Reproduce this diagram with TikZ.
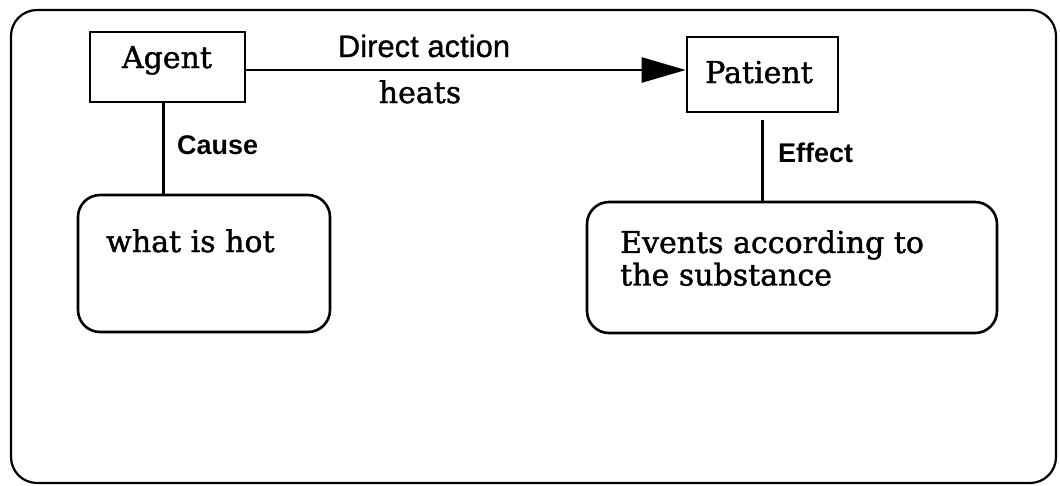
\documentclass[tikz,border=0pt]{standalone}
\usepackage{fontspec}
\setmainfont{DejaVu Serif}[FakeBold=1.3]
\newfontfamily\heavyserif{DejaVu Serif}[FakeBold=1.3]
\newfontfamily\labsans{Liberation Sans}[FakeBold=0.8]
\newfontfamily\labsansbold{Liberation Sans Bold}
\usetikzlibrary{arrows.meta}
\begin{document}
\begin{tikzpicture}[x=1pt,y=-1pt,
  frame/.style={draw,line width=2.2pt,rounded corners=26pt},
  sqbox/.style={draw,line width=2.6pt,inner sep=0pt},
  rbox/.style={draw,line width=2.6pt,rounded corners=22pt,inner sep=0pt},
  serif/.style={font=\heavyserif\fontsize{30}{32.5}\selectfont,inner sep=0pt},
  sanslab/.style={font=\labsans\fontsize{31}{34}\selectfont,inner sep=0pt},
  boldlab/.style={font=\labsansbold\fontsize{27}{30}\selectfont,inner sep=0pt},
  conn/.style={line width=2.4pt},
  arr/.style={line width=2.4pt,-{Triangle[length=44pt,width=25pt]}}
]
\useasboundingbox (0,0) rectangle (1060,485);
\draw[frame] (11,10) rectangle (1056,483);
% boxes
\node[sqbox,minimum width=155pt,minimum height=70pt] (agent) at (167.5,67) {};
\node[sqbox,minimum width=151pt,minimum height=75pt] (patient) at (762.5,74.5) {};
\node[rbox,minimum width=252pt,minimum height=137pt] (hot) at (204,263.5) {};
\node[rbox,minimum width=410pt,minimum height=131pt] (ev) at (792,267.5) {};
% texts
\node[serif,anchor=base] (tagent) at (167,68) {Agent};
\node[serif,anchor=base] (tpatient) at (759,83) {Patient};
\node[sanslab,anchor=base] (tdirect) at (424,57) {Direct action};
\node[serif,anchor=base] (theats) at (420,103) {heats};
\node[boldlab,anchor=base west] (tcause) at (177,154) {Cause};
\node[boldlab,anchor=base west] (teffect) at (778,162) {Effect};
\node[serif,anchor=base west] (thot) at (106,252) {what is hot};
\node[serif,anchor=north west,align=left] (tev) at (620,230) {Events according to\\the substance};
% connectors
\coordinate (pin) at ([yshift=-3pt]agent.east);
\draw[arr] (pin) -- (pin -| patient.west);
\draw[conn] ([xshift=-4pt]agent.south) -- ([xshift=-4pt]agent.south |- hot.north);
\coordinate (ptop) at ([yshift=-7pt]patient.south);
\draw[conn] (ptop) -- (ptop |- ev.north);
\end{tikzpicture}
\end{document}
